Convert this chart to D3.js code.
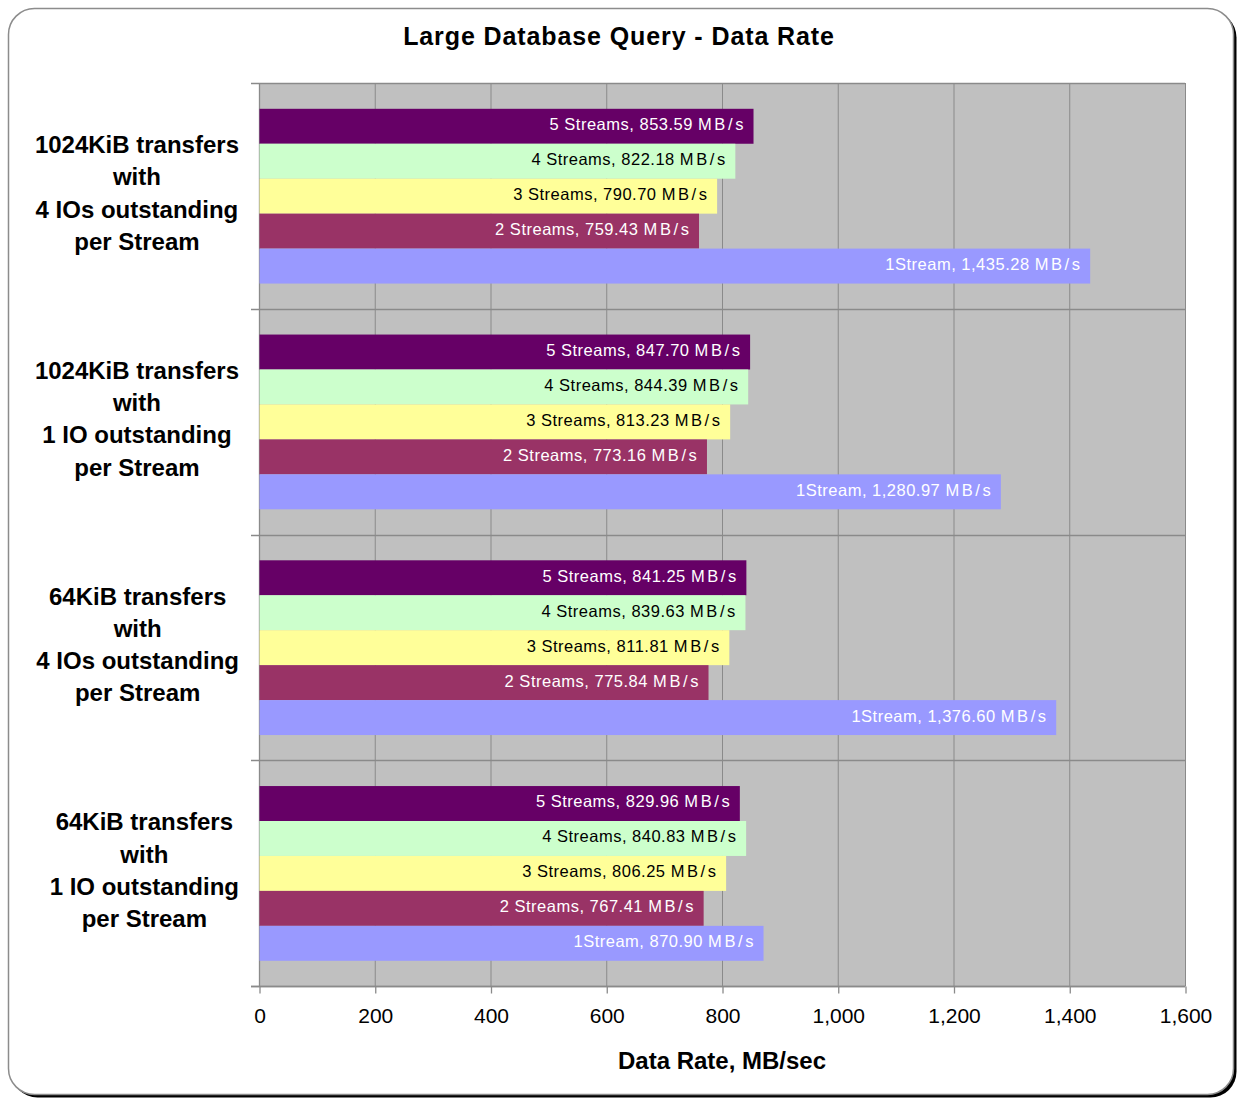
<!DOCTYPE html>
<html><head><meta charset="utf-8">
<script src="https://cdn.jsdelivr.net/npm/d3@7"></script>
<style>body{margin:0;background:#fff}svg{display:block}text{font-family:"Liberation Sans",Arial,sans-serif}</style>
</head><body><svg id="c" width="1238" height="1099"></svg>
<script>
const title = "Large Database Query - Data Rate";
const xTitle = "Data Rate, MB/sec";
const categories = [
  ["1024KiB transfers","with","4 IOs outstanding","per Stream"],
  ["1024KiB transfers","with","1 IO outstanding","per Stream"],
  ["64KiB transfers","with","4 IOs outstanding","per Stream"],
  ["64KiB transfers","with","1 IO outstanding","per Stream"]
];
const seriesNames = ["5 Streams","4 Streams","3 Streams","2 Streams","1Stream"];
const streams5 = [853.59, 847.70, 841.25, 829.96];
const streams4 = [822.18, 844.39, 839.63, 840.83];
const streams3 = [790.70, 813.23, 811.81, 806.25];
const streams2 = [759.43, 773.16, 775.84, 767.41];
const streams1 = [1435.28, 1280.97, 1376.60, 870.90];
const seriesValues = [streams5, streams4, streams3, streams2, streams1];
const seriesColors = ["#660066","#CCFFCC","#FFFF99","#993366","#9999FF"];
const labelColors = ["#ffffff","#000000","#000000","#ffffff","#ffffff"];
const xTicks = [0,200,400,600,800,1000,1200,1400,1600];

const svg = d3.select("#c");
svg.append("rect").attr("x",11.5).attr("y",11.5).attr("width",1225).attr("height",1086).attr("rx",26).attr("fill","#000");
svg.append("rect").attr("x",8.5).attr("y",8.5).attr("width",1225).attr("height",1086).attr("rx",26).attr("fill","#fff").attr("stroke","#8c8c8c").attr("stroke-width",1.5);

const L=259, R=1185, T=83, B=986;
const x = d3.scaleLinear().domain([0,1600]).range([L,R]);
const yG = d3.scaleBand().domain(d3.range(categories.length)).range([T,B]).paddingInner(0).paddingOuter(0);
const inner = d3.scaleBand().domain(d3.range(seriesNames.length)).range([25.8, yG.bandwidth()-25.2]);

svg.append("rect").attr("x",L).attr("y",T).attr("width",R-L).attr("height",B-T).attr("fill","#C0C0C0");

const grid = "#8a8a8a";
svg.append("g").selectAll("line").data(xTicks.slice(1)).join("line")
  .attr("x1",d=>x(d)+0.5).attr("x2",d=>x(d)+0.5).attr("y1",T).attr("y2",B).attr("stroke",grid);
const bounds = d3.range(categories.length+1).map(i=> i<categories.length ? yG(i) : B);
svg.append("g").selectAll("line").data(bounds).join("line")
  .attr("x1",251).attr("x2",R).attr("y1",d=>Math.round(d)+0.5).attr("y2",d=>Math.round(d)+0.5).attr("stroke",grid).attr("stroke-width",1.3);
svg.append("line").attr("x1",L+0.5).attr("x2",L+0.5).attr("y1",T).attr("y2",B).attr("stroke",grid).attr("stroke-width",1.3);

const fmt = d3.format(",.2f");
categories.forEach((cat,gi)=>{
  const g = svg.append("g").attr("transform",`translate(0,${yG(gi)})`);
  seriesNames.forEach((s,si)=>{
    const v = seriesValues[si][gi];
    g.append("rect").attr("x",x(0)+0.5).attr("y",inner(si)).attr("width",x(v)-x(0)).attr("height",inner.bandwidth()).attr("fill",seriesColors[si]);
    const t = g.append("text").attr("x",x(v)-7).attr("y",inner(si)+inner.bandwidth()/2 - 2).attr("dy","0.36em")
      .attr("text-anchor","end").attr("font-size",16.5).attr("fill",labelColors[si]);
    t.append("tspan").attr("letter-spacing",0.5).text(`${s}, ${fmt(v)} `);
    t.append("tspan").attr("letter-spacing",2.6).text("MB/s");
  });
});

const xAxis = d3.axisBottom(x).tickValues(xTicks).tickSize(7).tickPadding(15).tickFormat(d3.format(","));
const ax = svg.append("g").attr("transform",`translate(0.5,${B+0.5})`).call(xAxis);
ax.select(".domain").attr("d",`M${251-0.5},0H${R}`).attr("stroke",grid).attr("stroke-width",1.3);
ax.selectAll(".tick line").attr("stroke",grid).attr("stroke-width",1.3);
ax.selectAll(".tick text").attr("font-size",21).attr("fill","#000").attr("font-family","Liberation Sans, Arial, sans-serif");

categories.forEach((lines,gi)=>{
  const cy = yG(gi)+yG.bandwidth()/2;
  const t = svg.append("g");
  const texts = lines.map((ln,li)=> t.append("text").attr("font-size",24).attr("font-weight","bold").attr("text-anchor","middle")
      .attr("y", cy + (li-(lines.length-1)/2)*32.3 - 3).attr("dy","0.36em").text(ln));
  const maxW = d3.max(texts, tx=>tx.node().getComputedTextLength());
  texts.forEach(tx=>tx.attr("x", 239 - maxW/2));
});

svg.append("text").attr("x",619).attr("y",36).attr("dy","0.36em").attr("text-anchor","middle").attr("font-size",25).attr("font-weight","bold").attr("letter-spacing",0.9).text(title);
svg.append("text").attr("x",722).attr("y",1060).attr("dy","0.36em").attr("text-anchor","middle").attr("font-size",24).attr("font-weight","bold").text(xTitle);
</script></body></html>
